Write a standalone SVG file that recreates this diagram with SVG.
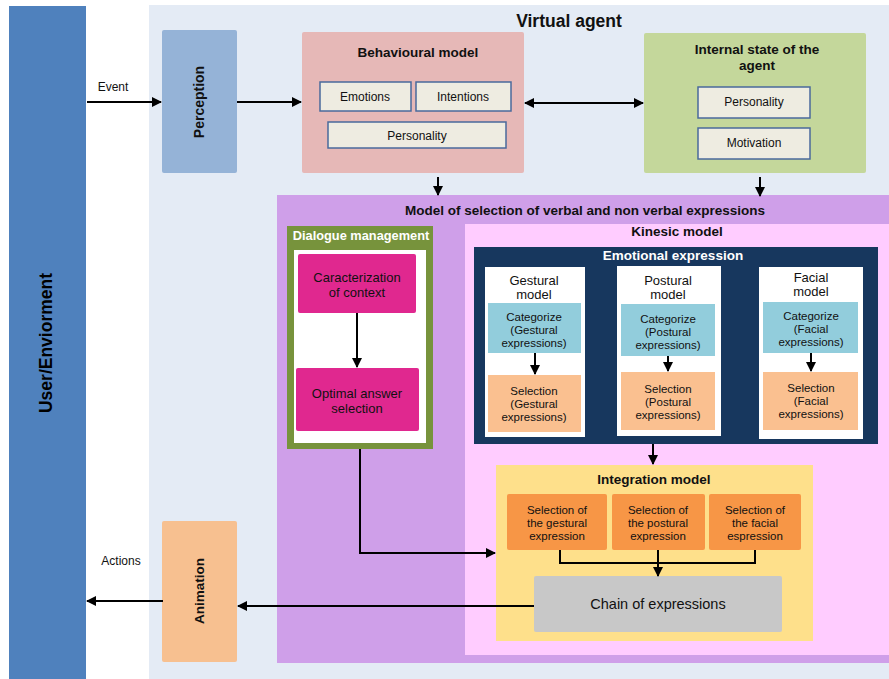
<svg xmlns="http://www.w3.org/2000/svg" width="889" height="679" viewBox="0 0 889 679">
<defs>
<marker id="ah" viewBox="0 0 10 10" refX="9" refY="5" markerWidth="10" markerHeight="10" markerUnits="userSpaceOnUse" orient="auto-start-reverse">
<path d="M0,0 L10,5 L0,10 z" fill="#000"/>
</marker>
<style>
text{font-family:"Liberation Sans",Arial,sans-serif;fill:#111;}
.t{font-size:12px;text-anchor:middle;}
.m{font-size:13px;text-anchor:middle;}
.s{font-size:11.5px;text-anchor:middle;}
.b{font-size:13.5px;font-weight:bold;text-anchor:middle;}
.w{fill:#fff;}
.item{fill:#eeece1;stroke:#4a6a9c;stroke-width:1.5;}
.cat{fill:#92cddc;}
.sel{fill:#fac090;}
.org{fill:#f79646;}
.col{fill:#fff;}
.c{fill:none;stroke:#000;stroke-width:2;}
</style>
</defs>
<rect width="889" height="679" fill="#fff"/>

<!-- environment bar -->
<g id="user">
<rect x="9" y="6" width="77" height="673" fill="#4f81bd"/>
<text x="47" y="343" transform="rotate(-90 47 343)" style="font-size:17.5px;font-weight:bold;text-anchor:middle;dominant-baseline:middle;fill:#000">User/Enviorment</text>
</g>

<!-- agent container -->
<g id="agent">
<rect x="149" y="5" width="740" height="674" fill="#e4ebf5"/>
<text x="569" y="27" style="font-size:17.5px;font-weight:bold;text-anchor:middle">Virtual agent</text>
</g>

<g id="perception">
<rect x="162" y="30" width="75" height="143" rx="2" fill="#95b3d7"/>
<text x="200" y="102" transform="rotate(-90 200 102)" class="b" style="dominant-baseline:middle;font-size:14px">Perception</text>
</g>

<g id="behavioural">
<rect x="302" y="32" width="222" height="141" rx="2" fill="#e6b8b7"/>
<text x="418" y="57" class="b">Behavioural model</text>
<rect class="item" x="320" y="82" width="91" height="29"/>
<text x="365" y="101" class="t">Emotions</text>
<rect class="item" x="416" y="82" width="95" height="29"/>
<text x="463" y="101" class="t">Intentions</text>
<rect class="item" x="328" y="122" width="178" height="26"/>
<text x="417" y="140" class="t">Personality</text>
</g>

<g id="internal">
<rect x="644" y="33" width="222" height="140" rx="2" fill="#c4d79b"/>
<text x="757" y="54" class="b">Internal state of the</text>
<text x="757" y="70" class="b">agent</text>
<rect class="item" x="698" y="87" width="112" height="31"/>
<text x="754" y="106" class="t">Personality</text>
<rect class="item" x="698" y="128" width="112" height="31"/>
<text x="754" y="147" class="t">Motivation</text>
</g>

<g id="selection-model">
<rect x="277" y="195" width="612" height="468" fill="#cf9fe9"/>
<text x="585" y="215" class="b">Model of selection of verbal and non verbal expressions</text>
</g>

<g id="dialogue">
<rect x="287" y="226" width="146" height="223" fill="#77933c"/>
<rect x="294" y="250" width="132" height="193" fill="#fff"/>
<text x="361" y="240" class="b w" style="font-size:12.8px">Dialogue management</text>
<rect x="298" y="254" width="118" height="59" rx="2" fill="#e0288f"/>
<text x="357" y="282" class="m">Caracterization</text>
<text x="357" y="297" class="m">of  context</text>
<rect x="296" y="368" width="123" height="63" rx="2" fill="#e0288f"/>
<text x="357" y="398" class="m">Optimal answer</text>
<text x="357" y="413" class="m">selection</text>
</g>

<g id="kinesic">
<rect x="465" y="224" width="424" height="431" fill="#ffccff"/>
<text x="677" y="236" class="b">Kinesic model</text>
</g>

<g id="emotional">
<rect x="474" y="247" width="404" height="197" fill="#17375e"/>
<text x="673" y="260" class="b w">Emotional expression</text>
</g>

<g id="gestural">
<rect class="col" x="485" y="267" width="100" height="170"/>
<text x="534" y="285" class="m">Gestural</text>
<text x="534" y="299" class="m">model</text>
<rect class="cat" x="488" y="303" width="93" height="50"/>
<text x="534" y="321" class="s">Categorize</text>
<text x="534" y="334" class="s">(Gestural</text>
<text x="534" y="347" class="s">expressions)</text>
<rect class="sel" x="488" y="375" width="93" height="57"/>
<text x="534" y="395" class="s">Selection</text>
<text x="534" y="408" class="s">(Gestural</text>
<text x="534" y="421" class="s">expressions)</text>
</g>

<g id="postural">
<rect class="col" x="617" y="266" width="104" height="170"/>
<text x="668" y="285" class="m">Postural</text>
<text x="668" y="299" class="m">model</text>
<rect class="cat" x="621" y="304" width="94" height="52"/>
<text x="668" y="323" class="s">Categorize</text>
<text x="668" y="336" class="s">(Postural</text>
<text x="668" y="349" class="s">expressions)</text>
<rect class="sel" x="621" y="372" width="94" height="58"/>
<text x="668" y="393" class="s">Selection</text>
<text x="668" y="406" class="s">(Postural</text>
<text x="668" y="419" class="s">expressions)</text>
</g>

<g id="facial">
<rect class="col" x="759" y="267" width="104" height="172"/>
<text x="811" y="282" class="m">Facial</text>
<text x="811" y="296" class="m">model</text>
<rect class="cat" x="763" y="302" width="95" height="51"/>
<text x="811" y="320" class="s">Categorize</text>
<text x="811" y="333" class="s">(Facial</text>
<text x="811" y="346" class="s">expressions)</text>
<rect class="sel" x="763" y="372" width="95" height="58"/>
<text x="811" y="392" class="s">Selection</text>
<text x="811" y="405" class="s">(Facial</text>
<text x="811" y="418" class="s">expressions)</text>
</g>

<g id="integration">
<rect x="496" y="465" width="317" height="176" fill="#fee08b"/>
<text x="654" y="484" class="b">Integration model</text>
<rect class="org" x="507" y="494" width="100" height="56" rx="2"/>
<text x="557" y="514" class="s">Selection of</text>
<text x="557" y="527" class="s">the gestural</text>
<text x="557" y="540" class="s">expression</text>
<rect class="org" x="612" y="494" width="93" height="56" rx="2"/>
<text x="658" y="514" class="s">Selection of</text>
<text x="658" y="527" class="s">the postural</text>
<text x="658" y="540" class="s">expression</text>
<rect class="org" x="709" y="494" width="92" height="56" rx="2"/>
<text x="755" y="514" class="s">Selection of</text>
<text x="755" y="527" class="s">the facial</text>
<text x="755" y="540" class="s">espression</text>
</g>

<g id="chain">
<rect x="534" y="576" width="248" height="56" rx="2" fill="#c8c8c8"/>
<text x="658" y="609" style="font-size:14.5px;text-anchor:middle">Chain of expressions</text>
</g>

<g id="animation">
<rect x="162" y="521" width="75" height="141" rx="2" fill="#f7c090"/>
<text x="200" y="591" transform="rotate(-90 200 591)" class="b" style="dominant-baseline:middle">Animation</text>
</g>

<g id="labels">
<text x="113" y="91" class="t">Event</text>
<text x="121" y="565" class="t">Actions</text>
</g>

<g id="connectors">
<line class="c" x1="87" y1="102" x2="161" y2="102" marker-end="url(#ah)"/>
<line class="c" x1="237" y1="102" x2="301" y2="102" marker-end="url(#ah)"/>
<line class="c" x1="525" y1="103" x2="643" y2="103" marker-start="url(#ah)" marker-end="url(#ah)"/>
<line class="c" x1="438" y1="177" x2="438" y2="195" marker-end="url(#ah)"/>
<line class="c" x1="760" y1="177" x2="760" y2="196" marker-end="url(#ah)"/>
<line class="c" x1="357" y1="313" x2="357" y2="367" marker-end="url(#ah)"/>
<line class="c" x1="535" y1="353" x2="535" y2="374" marker-end="url(#ah)"/>
<line class="c" x1="668" y1="356" x2="668" y2="371" marker-end="url(#ah)"/>
<line class="c" x1="811" y1="353" x2="811" y2="371" marker-end="url(#ah)"/>
<line class="c" x1="653" y1="444" x2="653" y2="464" marker-end="url(#ah)"/>
<polyline class="c" points="360,449 360,553 495,553" marker-end="url(#ah)"/>
<polyline class="c" points="560,550 560,563 755,563 755,550"/>
<line class="c" x1="658" y1="550" x2="658" y2="576" marker-end="url(#ah)"/>
<line class="c" x1="534" y1="606" x2="238" y2="606" marker-end="url(#ah)"/>
<line class="c" x1="163" y1="601" x2="87" y2="601" marker-end="url(#ah)"/>
</g>
</svg>
